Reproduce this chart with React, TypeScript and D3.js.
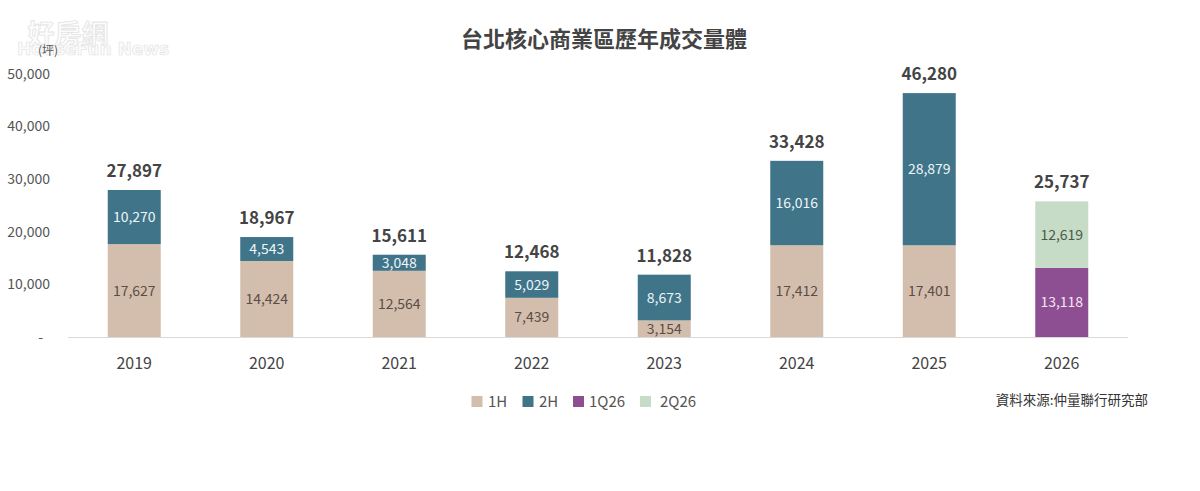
import React from "react";
import * as d3 from "d3";

const years = ["2019", "2020", "2021", "2022", "2023", "2024", "2025", "2026"];
const h1 = [17627, 14424, 12564, 7439, 3154, 17412, 17401, 0];
const h2 = [10270, 4543, 3048, 5029, 8673, 16016, 28879, 0];
const q1_26 = [0, 0, 0, 0, 0, 0, 0, 13118];
const q2_26 = [0, 0, 0, 0, 0, 0, 0, 12619];
const totalLabels = ["27,897", "18,967", "15,611", "12,468", "11,828", "33,428", "46,280", "25,737"];
const yTicks = [0, 10000, 20000, 30000, 40000, 50000];

const seriesNames = ["1H", "2H", "1Q26", "2Q26"];
const seriesColors = ["#d3beae", "#3f7489", "#8d4f91", "#c6dcc7"];
const seriesText = ["#5b4d45", "#eef6f8", "#f6e6f6", "#4a5a4a"];
const seriesData = [h1, h2, q1_26, q2_26];

const W = 1200;
const H = 491;
const FONT = "'Noto Sans CJK TC', 'Noto Sans', sans-serif";

export default function App() {
  const x = d3.scaleBand().domain(years).range([68, 1128]).paddingInner(0.6).paddingOuter(0.3);
  const y = d3.scaleLinear().domain([0, 50000]).range([337, 73.5]);
  const fmt = d3.format(",");

  const stacked = years.map((yr, i) => {
    let acc = 0;
    const segs = seriesData.map((s, k) => {
      const v = s[i];
      const seg = { k, v, y0: acc, y1: acc + v };
      acc += v;
      return seg;
    });
    return { yr, i, total: acc, segs };
  });

  const legendX = [471.5, 522.5, 573, 640];
  const legendTextX = [488, 539, 589, 660];

  return (
    <svg width={W} height={H} style={{ position: "absolute", left: 0, top: 0, background: "#fff" }} fontFamily={FONT}>
      <rect x={0} y={0} width={W} height={H} fill="#fff" />
      {/* watermark */}
      <text x={68} y={44} textAnchor="middle" fontSize={27} fontWeight={700} fill="#fcfcfc" stroke="#e4e4e4" strokeWidth={0.8}>好房網</text>
      <text x={93} y={55} textAnchor="middle" fontSize={17} fontWeight={700} fill="#fcfcfc" stroke="#e4e4e4" strokeWidth={0.7} fontFamily="'DejaVu Sans', sans-serif">HouseFun News</text>
      {/* title */}
      <text x={604} y={47} textAnchor="middle" fontSize={22} fontWeight={700} fill="#444">台北核心商業區歷年成交量體</text>
      {/* unit */}
      <text x={38} y={55} fontSize={12} fill="#555">(坪)</text>
      {/* y axis labels */}
      {yTicks.map((t) => (
        <text key={t} x={t === 0 ? 43 : 50} y={y(t) + 5} textAnchor="end" fontSize={14} fill="#555">
          {t === 0 ? "-" : fmt(t)}
        </text>
      ))}
      {/* baseline */}
      <line x1={68} x2={1128} y1={337.5} y2={337.5} stroke="#d9d9d9" strokeWidth={1} />
      {/* bars */}
      {stacked.map((d) => (
        <g key={d.yr}>
          {d.segs.filter((s) => s.v > 0).map((s) => (
            <g key={s.k}>
              <rect x={x(d.yr)} y={y(s.y1)} width={x.bandwidth()} height={y(s.y0) - y(s.y1)} fill={seriesColors[s.k]} />
              <text x={(x(d.yr) as number) + x.bandwidth() / 2} y={(y(s.y0) + y(s.y1)) / 2 + 5} textAnchor="middle" fontSize={14} fill={seriesText[s.k]}>
                {fmt(s.v)}
              </text>
            </g>
          ))}
          <text x={(x(d.yr) as number) + x.bandwidth() / 2} y={y(d.total) - 13} textAnchor="middle" fontSize={17} fontWeight={700} fill="#444">
            {totalLabels[d.i]}
          </text>
          <text x={(x(d.yr) as number) + x.bandwidth() / 2} y={369} textAnchor="middle" fontSize={16} fill="#444">
            {d.yr}
          </text>
        </g>
      ))}
      {/* legend */}
      {seriesNames.map((n, k) => (
        <g key={n}>
          <rect x={legendX[k]} y={396} width={11} height={11} fill={seriesColors[k]} />
          <text x={legendTextX[k]} y={407} fontSize={15} fill="#555">{n}</text>
        </g>
      ))}
      {/* source */}
      <text x={1148} y={405} textAnchor="end" fontSize={13.5} fill="#333">資料來源:仲量聯行研究部</text>
    </svg>
  );
}
